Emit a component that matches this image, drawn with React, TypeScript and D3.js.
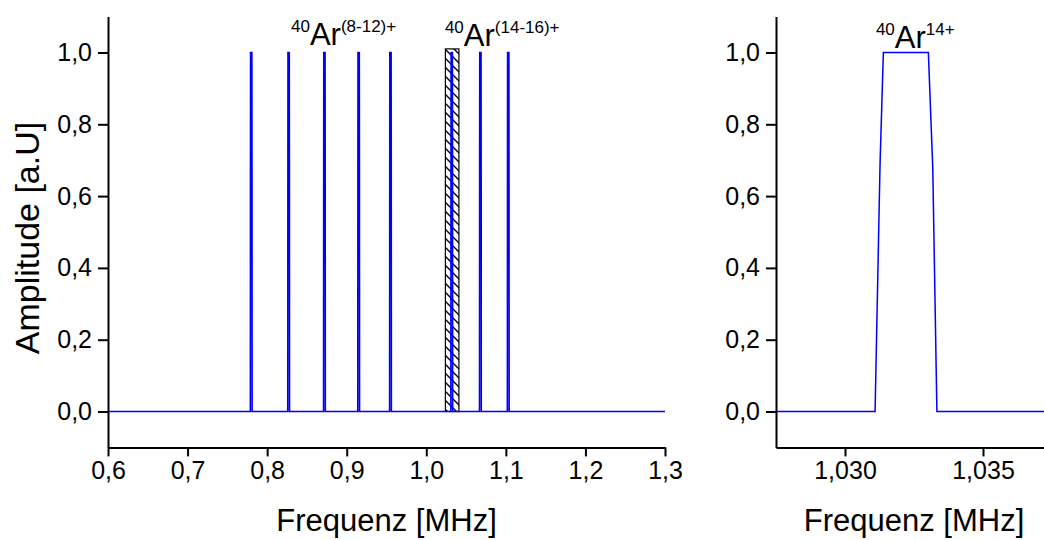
import React, { useEffect, useRef } from 'react';
import * as d3 from 'd3';

// peak positions in the overview panel (MHz), Ar 8+..12+, 14+..16+
const peakCenters = [0.78, 0.827, 0.872, 0.915, 0.955, 1.032, 1.068, 1.103];
// shape of one peak relative to its centre (MHz offset / amplitude)
const profileOffsets = [-0.00112, -0.00094, -0.00082, 0.00081, 0.00097, 0.00112];
const profileAmps = [0, 0.69, 1, 1, 0.68, 0];

// zoomed panel: Ar 14+ line
const zoomFreq = [1.0275, 1.03109, 1.03127, 1.03139, 1.03302, 1.03318, 1.03333, 1.0375];
const zoomAmp = [0, 0, 0.69, 1, 1, 0.68, 0, 0];

// hatched selection window in the overview panel
const windowRange = [1.024, 1.041];
const windowHeight = 1.01;

const yMajor = [0, 0.2, 0.4, 0.6, 0.8, 1.0];
const yMinor = [0.1, 0.3, 0.5, 0.7, 0.9];
const xMajorL = [0.6, 0.7, 0.8, 0.9, 1.0, 1.1, 1.2, 1.3];
const xMinorL = [0.65, 0.75, 0.85, 0.95, 1.05, 1.15, 1.25];
const xMajorR = [1.03, 1.035];
const xMinorR = [1.0325];

const FONT = '"Liberation Sans", Arial, sans-serif';
const comma = (fmt: string) => (d: any) => d3.format(fmt)(d).replace('.', ',');

const App = () => {
  const ref = useRef<SVGSVGElement>(null);

  useEffect(() => {
    const svg = d3.select(ref.current);
    svg.selectAll('*').remove();

    const y = d3.scaleLinear().domain([-0.1, 1.1]).range([447.4, 16.6]);
    const xL = d3.scaleLinear().domain([0.6, 1.3]).range([108, 665]);
    const xR = d3.scaleLinear().domain([1.0275, 1.0375]).range([776, 1052]);

    // hatch pattern
    const pat = svg
      .append('defs')
      .append('pattern')
      .attr('id', 'hatch')
      .attr('patternUnits', 'userSpaceOnUse')
      .attr('width', 9)
      .attr('height', 9);
    pat
      .append('path')
      .attr('d', 'M-1,-1 L10,10 M-1,8 L1,10 M8,-1 L10,1')
      .attr('stroke', '#000')
      .attr('stroke-width', 1.4);

    const drawAxes = (x: any, xMajor: number[], xMinor: number[], fmt: string) => {
      const gx = svg.append('g').attr('transform', `translate(0,${y(-0.1)})`);
      gx.call(d3.axisBottom(x).tickValues(xMinor).tickFormat(() => '').tickSize(5).tickSizeOuter(0));
      gx.call(
        d3.axisBottom(x).tickValues(xMajor).tickFormat(comma(fmt)).tickSize(9).tickSizeOuter(0).tickPadding(5)
      );
      const gy = svg.append('g').attr('transform', `translate(${x.range()[0]},0)`);
      gy.call(d3.axisLeft(y).tickValues(yMinor).tickFormat(() => '').tickSize(5).tickSizeOuter(0));
      gy.call(d3.axisLeft(y).tickValues(yMajor).tickFormat(comma('.1f')).tickSize(10).tickSizeOuter(0).tickPadding(6));
      [gx, gy].forEach((g) => {
        g.attr('font-size', 25).attr('font-family', FONT);
        g.selectAll('path.domain').attr('stroke-width', 2);
        g.selectAll('line').attr('stroke-width', 2);
        g.selectAll('text').style('font-family', FONT).style('font-size', '25px').attr('fill', '#000');
      });
    };

    drawAxes(xL, xMajorL, xMinorL, '.1f');
    drawAxes(xR, xMajorR, xMinorR, '.3f');

    // overview spectrum
    const pts: [number, number][] = [[0.6, 0]];
    peakCenters.forEach((c) => {
      profileOffsets.forEach((o, i) => pts.push([c + o, profileAmps[i]]));
    });
    pts.push([1.3, 0]);

    svg
      .append('rect')
      .attr('x', xL(windowRange[0]))
      .attr('y', y(windowHeight))
      .attr('width', xL(windowRange[1]) - xL(windowRange[0]))
      .attr('height', y(0) - y(windowHeight))
      .attr('fill', 'url(#hatch)')
      .attr('stroke', '#000')
      .attr('stroke-width', 1.2);

    const lineL = d3
      .line<[number, number]>()
      .x((d) => xL(d[0]))
      .y((d) => y(d[1]));
    svg
      .append('path')
      .attr('d', lineL(pts))
      .attr('fill', 'none')
      .attr('stroke', '#0000ff')
      .attr('stroke-width', 1.6);

    // zoomed spectrum
    const lineR = d3
      .line<number>()
      .x((d, i) => xR(zoomFreq[i]))
      .y((d) => y(d));
    svg
      .append('path')
      .attr('d', lineR(zoomAmp))
      .attr('fill', 'none')
      .attr('stroke', '#0000ff')
      .attr('stroke-width', 1.5);

    // ion labels
    const label = (x: number, yy: number, sup1: string, sup2: string) => {
      const t = svg
        .append('text')
        .attr('x', x)
        .attr('y', yy)
        .style('font-family', FONT)
        .attr('fill', '#000');
      t.append('tspan').attr('font-size', 17).attr('dy', -13).text(sup1);
      t.append('tspan').attr('font-size', 31).attr('dy', 13).text('Ar');
      t.append('tspan').attr('font-size', 17).attr('dy', -13).text(sup2);
    };
    label(xL(0.83), 45, '40', '(8-12)+');
    label(xL(1.0234), 46, '40', '(14-16)+');
    label(xR(1.03112), 48, '40', '14+');

    // axis titles
    const title = (x: number, yy: number, txt: string, size: number, rot = false) =>
      svg
        .append('text')
        .attr('transform', rot ? `translate(${x},${yy}) rotate(-90)` : `translate(${x},${yy})`)
        .attr('text-anchor', 'middle')
        .style('font-family', FONT)
        .style('font-size', `${size}px`)
        .attr('fill', '#000')
        .text(txt);
    title((xL.range()[0] + xL.range()[1]) / 2, 531, 'Frequenz [MHz]', 31);
    title((xR.range()[0] + xR.range()[1]) / 2, 531, 'Frequenz [MHz]', 31);
    title(39, 238, 'Amplitude [a.U]', 34, true);
  }, []);

  return (
    <svg
      ref={ref}
      width={1044}
      height={540}
      style={{ position: 'absolute', left: 0, top: 0, background: '#fff' }}
    />
  );
};

export default App;
